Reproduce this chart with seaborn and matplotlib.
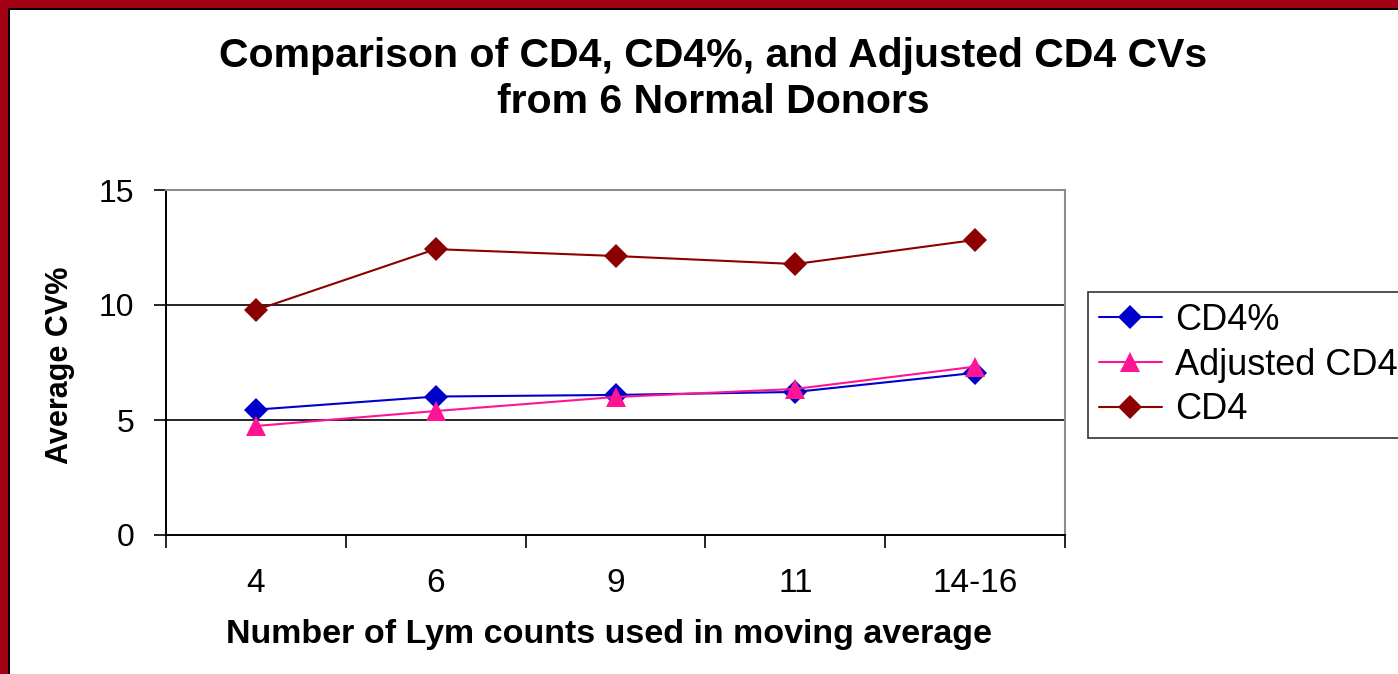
import matplotlib
matplotlib.use("Agg")
import matplotlib.pyplot as plt
from matplotlib.patches import Rectangle
from matplotlib.ticker import FixedLocator, NullFormatter
import seaborn as sns
import pandas as pd

# data
categories = ["4", "6", "9", "11", "14-16"]
cd4_pct = [5.45, 6.02, 6.09, 6.22, 7.05]
adjusted_cd4 = [4.74, 5.39, 6.0, 6.35, 7.32]
cd4 = [9.78, 12.43, 12.13, 11.78, 12.83]

series_names = ["CD4%", "Adjusted CD4", "CD4"]
colors = {"CD4%": "#0000CC", "Adjusted CD4": "#FF1493", "CD4": "#8B0000"}
markers = {"CD4%": "D", "Adjusted CD4": "^", "CD4": "D"}

rows = []
for name, vals in zip(series_names, [cd4_pct, adjusted_cd4, cd4]):
    for i, v in enumerate(vals):
        rows.append({"pos": i, "series": name, "value": v})
df = pd.DataFrame(rows)

sns.set_theme(style="white")
plt.rcParams["font.family"] = ["Liberation Sans", "DejaVu Sans"]
plt.rcParams.update({"text.color": "black", "axes.labelcolor": "black",
                     "xtick.color": "black", "ytick.color": "black"})

fig = plt.figure(figsize=(13.98, 6.74), dpi=100)
W, H = 1398, 674
ax = fig.add_axes([166 / W, 1 - 535 / H, (1065 - 166) / W, (535 - 190) / H])

sns.lineplot(data=df, x="pos", y="value", hue="series", style="series",
             hue_order=series_names, style_order=series_names,
             palette=colors, markers=markers, dashes=False,
             markersize=12, markeredgewidth=0, linewidth=1.5, ax=ax)

# triangles look bigger than the diamonds in the original
for ln in ax.lines:
    if ln.get_marker() == "^":
        ln.set_markersize(15)

ax.set_xlim(-0.5, 4.5)
ax.set_ylim(0, 15)
ax.set_yticks([0, 5, 10, 15])
ax.set_yticklabels(["0", "5", "10", "15"], fontsize=23)
ax.xaxis.set_major_locator(FixedLocator([-0.5, 0.5, 1.5, 2.5, 3.5, 4.5]))
ax.xaxis.set_major_formatter(NullFormatter())
ax.xaxis.set_minor_locator(FixedLocator(list(range(len(categories)))))
ax.set_xticklabels(categories, minor=True, fontsize=24)
ax.tick_params(axis="x", which="major", direction="out", length=9, width=1.2,
               color="black", bottom=True)
ax.tick_params(axis="x", which="minor", length=0, pad=24)
ax.tick_params(axis="y", direction="out", length=9, width=1.2, color="black",
               left=True, pad=14)

for y in [5, 10]:
    ax.axhline(y, color="black", linewidth=1.2, zorder=0)

for side in ["top", "right"]:
    ax.spines[side].set_color("#8c8c8c")
    ax.spines[side].set_linewidth(1.5)
for side in ["left", "bottom"]:
    ax.spines[side].set_color("black")
    ax.spines[side].set_linewidth(1.4)

ax.set_xlabel("Number of Lym counts used in moving average", fontsize=24.5,
              fontweight="bold")
ax.xaxis.set_label_coords((609 - 166) / (1065 - 166), -(635 - 535) / (535 - 190))
ax.set_ylabel("Average CV%", fontsize=22, fontweight="bold")
ax.yaxis.set_label_coords(-(166 - 60) / (1065 - 166), (535 - 365) / (535 - 190))
ax.xaxis.label.set_va("center")
ax.yaxis.label.set_va("center")

fig.text(713 / W, 1 - 79 / H,
         "Comparison of CD4, CD4%, and Adjusted CD4 CVs\nfrom 6 Normal Donors",
         ha="center", va="center", fontsize=29.5, fontweight="bold",
         linespacing=1.27)

handles, labels = ax.get_legend_handles_labels()
for h in handles:
    if h.get_marker() == "^":
        h.set_markersize(15)
ax.get_legend().remove()
leg = fig.legend(handles, labels, loc="upper left",
                 bbox_to_anchor=(1088 / W, 1 - 292 / H), fontsize=26,
                 frameon=True, fancybox=False, edgecolor="black",
                 borderpad=0.3, labelspacing=0.27, handlelength=1.75,
                 handletextpad=0.35, borderaxespad=0)
leg.get_frame().set_linewidth(1.2)

# red frame on top and left edges
red = "#A30016"
fig.patches.append(Rectangle((0, 1 - 8 / H), 1, 8 / H, transform=fig.transFigure,
                             facecolor=red, edgecolor="none", zorder=5))
fig.patches.append(Rectangle((0, 0), 8 / W, 1, transform=fig.transFigure,
                             facecolor=red, edgecolor="none", zorder=5))
fig.patches.append(Rectangle((8 / W, 1 - 9.5 / H), 1, 1.5 / H, transform=fig.transFigure,
                             facecolor="black", edgecolor="none", zorder=5))
fig.patches.append(Rectangle((8 / W, 0), 1.5 / W, 1 - 8 / H, transform=fig.transFigure,
                             facecolor="black", edgecolor="none", zorder=5))

fig.savefig("out.png", dpi=100)
